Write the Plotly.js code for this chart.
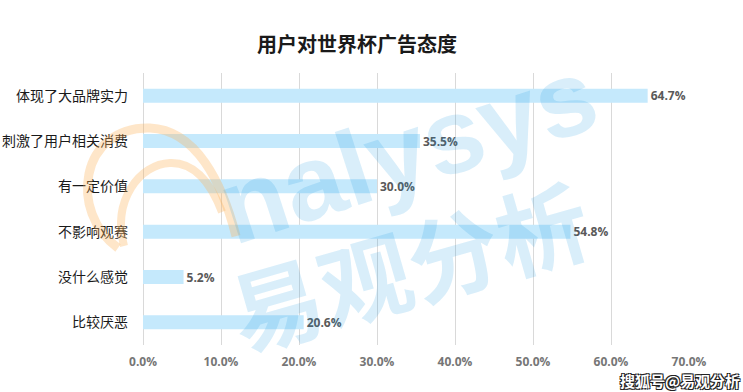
<!DOCTYPE html>
<html>
<head>
<meta charset="utf-8">
<script src="https://cdn.plot.ly/plotly-3.0.1.min.js"></script>
<style>
  html, body { margin: 0; padding: 0; background: #ffffff; }
  #chart { width: 743px; height: 392px; }
</style>
</head>
<body>
<div id="chart"></div>
<script>
// Survey: attitudes of users toward World Cup advertising (share of respondents, %)
const categories = ['体现了大品牌实力', '刺激了用户相关消费', '有一定价值', '不影响观赛', '没什么感觉', '比较厌恶'];
const shares = [64.7, 35.5, 30.0, 54.8, 5.2, 20.6];
const xTickValues = [0, 10, 20, 30, 40, 50, 60, 70];
const xTickLabels = ['0.0%', '10.0%', '20.0%', '30.0%', '40.0%', '50.0%', '60.0%', '70.0%'];

const CJK = '"Noto Sans CJK SC", "Microsoft YaHei", sans-serif';
const NUM = '"Open Sans", "Noto Sans", sans-serif';

// plot-area box in pixels, used to place the brand mark in paper units
const W = 743, H = 392;
const M = { l: 143, r: 54, t: 73, b: 47 };
const PW = W - M.l - M.r, PH = H - M.t - M.b;
const px = (x) => ((x - M.l) / PW).toFixed(4);
const py = (y) => ((H - M.b - y) / PH).toFixed(4);
const pt = (x, y) => px(x) + ',' + py(y);

const bars = {
  type: 'bar',
  orientation: 'h',
  x: shares,
  y: categories,
  width: 0.31,
  marker: { color: '#c5e9fc', line: { width: 0 } },
  texttemplate: '%{x:.1f}%',
  textposition: 'outside',
  constraintext: 'none',
  cliponaxis: false,
  textfont: { family: NUM, size: 12, color: '#595959', weight: 'bold' },
  hoverinfo: 'skip'
};

// light brand watermark drawn over the chart
const wmBlue = 'rgba(10,145,223,0.155)';
const annotations = [
  {
    text: 'nalysys', xref: 'paper', yref: 'paper',
    x: px(408), y: py(150), xanchor: 'center', yanchor: 'middle',
    textangle: -18, showarrow: false,
    font: { family: '"Liberation Sans", Arial, sans-serif', size: 106, color: wmBlue, weight: 'bold' }
  },
  {
    text: '易观分析', xref: 'paper', yref: 'paper',
    x: px(408), y: py(262), xanchor: 'center', yanchor: 'middle',
    textangle: -16, showarrow: false,
    font: { family: CJK, size: 92, color: wmBlue, weight: 'bold' }
  },
  {
    text: '搜狐号@易观分析', xref: 'paper', yref: 'paper',
    x: px(742), y: py(380), xanchor: 'right', yanchor: 'middle',
    showarrow: false,
    font: {
      family: CJK, size: 15, color: '#ffffff', weight: 'bold',
      shadow: '-1px -1px 0 #222, 1px -1px 0 #222, -1px 1px 0 #222, 1px 1px 0 #222'
    }
  }
];

const orange = 'rgba(253,180,90,0.33)';
const shapes = [
  {
    type: 'path', xref: 'paper', yref: 'paper', layer: 'above',
    path: 'M' + pt(118, 248) + ' C' + pt(68, 212) + ' ' + pt(80, 126) + ' ' + pt(150, 128) +
          ' C' + pt(196, 130) + ' ' + pt(222, 182) + ' ' + pt(236, 236),
    line: { color: orange, width: 9 }
  },
  {
    type: 'path', xref: 'paper', yref: 'paper', layer: 'above',
    path: 'M' + pt(124, 246) + ' C' + pt(112, 200) + ' ' + pt(140, 164) + ' ' + pt(170, 163) +
          ' C' + pt(196, 162) + ' ' + pt(212, 186) + ' ' + pt(222, 212),
    line: { color: orange, width: 8 }
  }
];

const layout = {
  width: W,
  height: H,
  margin: M,
  paper_bgcolor: '#ffffff',
  plot_bgcolor: '#ffffff',
  showlegend: false,
  hovermode: false,
  title: {
    text: '用户对世界杯广告态度',
    font: { family: CJK, size: 20, color: '#1a1a1a', weight: 'bold' },
    xref: 'container', x: 357 / W, xanchor: 'center',
    yref: 'container', y: 1 - 45 / H, yanchor: 'middle'
  },
  xaxis: {
    range: [0, 70],
    tickmode: 'array',
    tickvals: xTickValues,
    ticktext: xTickLabels,
    showgrid: true,
    gridcolor: '#d9d9d9',
    gridwidth: 1,
    zeroline: true,
    zerolinecolor: '#d9d9d9',
    zerolinewidth: 1,
    showline: false,
    ticks: '',
    ticklabelstandoff: 8,
    tickfont: { family: NUM, size: 12, color: '#767676', weight: 'bold' },
    fixedrange: true
  },
  yaxis: {
    type: 'category',
    categoryorder: 'array',
    categoryarray: categories,
    autorange: 'reversed',
    showgrid: false,
    zeroline: false,
    showline: false,
    ticks: '',
    ticklabelstandoff: 14,
    tickfont: { family: CJK, size: 14, color: '#1a1a1a' },
    fixedrange: true
  },
  annotations: annotations,
  shapes: shapes
};

Plotly.newPlot('chart', [bars], layout, { displayModeBar: false, staticPlot: true });
</script>
</body>
</html>
